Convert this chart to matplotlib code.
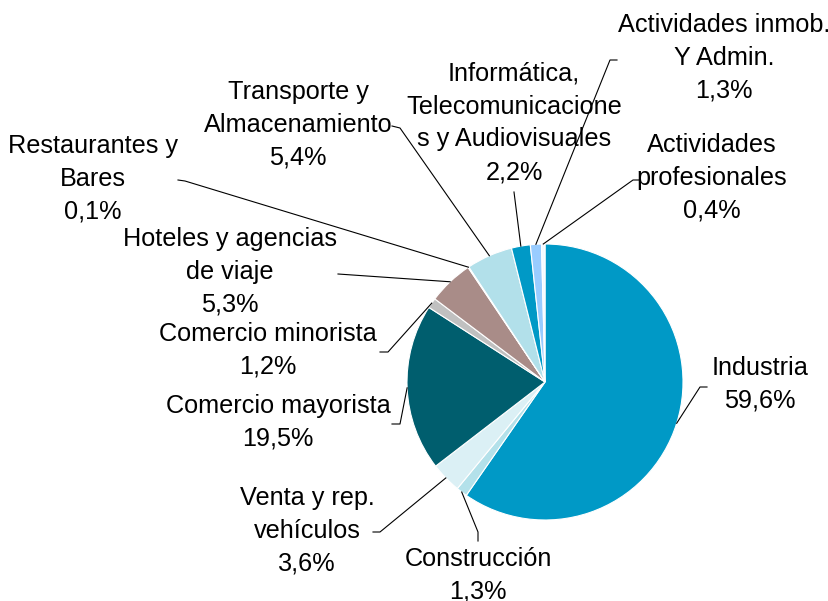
import matplotlib.pyplot as plt
import numpy as np

# sectores y participación (%)
sectores = ['Industria', 'Construcción', 'Venta y rep.\nvehículos', 'Comercio mayorista',
            'Comercio minorista', 'Hoteles y agencias\nde viaje', 'Restaurantes y\nBares',
            'Transporte y\nAlmacenamiento', 'Informática,\nTelecomunicacione\ns y Audiovisuales',
            'Actividades inmob.\nY Admin.', 'Actividades\nprofesionales']
valores = [59.6, 1.3, 3.6, 19.5, 1.2, 5.3, 0.1, 5.4, 2.2, 1.3, 0.4]
colores = ['#0099C6', '#B3E1EA', '#DBF0F5', '#005E6E', '#C0C0C0', '#A98C88',
           '#FFFFFF', '#B2E0EA', '#0099C6', '#99CCFF', '#F4FAFF']

# posición de cada etiqueta (px) y puntos del conector (px)
pos_texto = [(760, 384), (478, 575), (307, 531), (278, 422), (268, 350), (230, 272),
             (93, 179), (298, 125), (514, 123), (724, 58), (712, 178)]
conectores = [[(700, 387), (707, 387)], [(478, 532), (478, 541)], [(380, 532), (373, 532)],
              [(400, 424), (392, 424)], [(388, 352), (380, 352)], [(338, 274)],
              [(185, 181), (178, 180)], [(400, 128), (392, 126)], [(514, 192)],
              [(610, 60), (617, 60)], [(633, 180), (640, 180)]]

plt.rcParams['font.family'] = ['Liberation Sans', 'DejaVu Sans']

W, H = 829, 601
cx, cy, R = 545, 382, 138

fig = plt.figure(figsize=(W / 100, H / 100), dpi=100)
ax = fig.add_axes([0, 0, 1, 1])


def px(p):
    # píxeles -> coordenadas del eje
    return ((p[0] - cx) / R, (cy - p[1]) / R)


wedges, _ = ax.pie(valores, colors=colores, startangle=90, counterclock=False,
                   radius=1, center=(0, 0),
                   wedgeprops=dict(edgecolor='white', linewidth=0.8))

for w, nombre, v, tp, con in zip(wedges, sectores, valores, pos_texto, conectores):
    ang = np.deg2rad((w.theta1 + w.theta2) / 2)
    xs = [np.cos(ang)] + [px(p)[0] for p in con]
    ys = [np.sin(ang)] + [px(p)[1] for p in con]
    ax.plot(xs, ys, color='black', lw=0.8)
    etiqueta = nombre + '\n' + f'{v:.1f}%'.replace('.', ',')
    tx, ty = px(tp)
    ax.text(tx, ty, etiqueta, ha='center', va='center', multialignment='center',
            fontsize=18.2, linespacing=1.47, color='black')

# los límites van después de pie(), que los fija por su cuenta
ax.set_xlim(-cx / R, (W - cx) / R)
ax.set_ylim(-(H - cy) / R, cy / R)
ax.set_aspect('equal')
ax.axis('off')

fig.savefig('out.png', dpi=100)
